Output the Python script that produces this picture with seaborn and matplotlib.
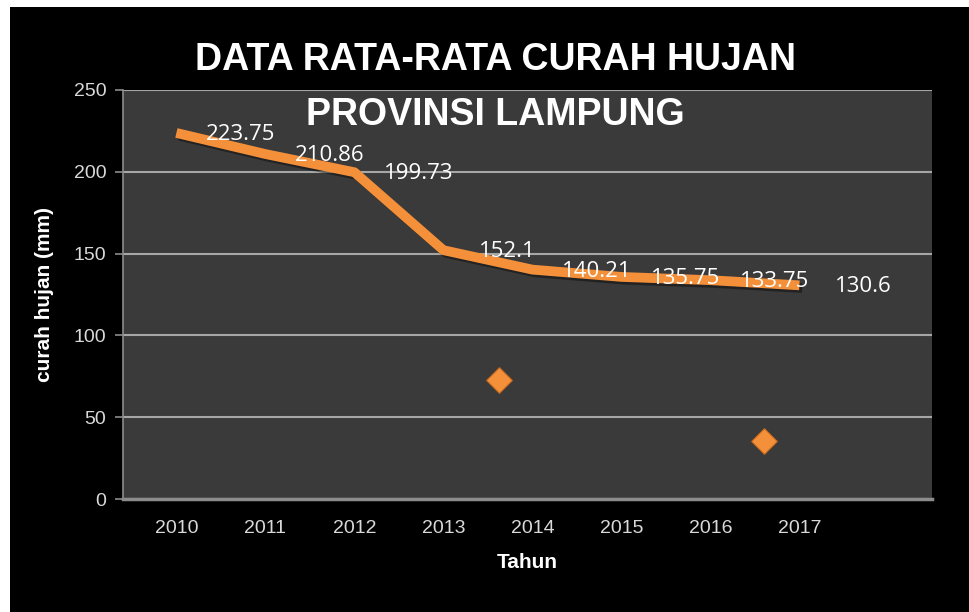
import numpy as np
import pandas as pd
import matplotlib
matplotlib.use('Agg')
import matplotlib.pyplot as plt
import matplotlib.patheffects as pe
from matplotlib.patches import Rectangle
import seaborn as sns

# Data
tahun = [2010, 2011, 2012, 2013, 2014, 2015, 2016, 2017]
curah_hujan = [223.75, 210.86, 199.73, 152.1, 140.21, 135.75, 133.75, 130.6]
label_teks = ['223.75', '210.86', '199.73', '152.1', '140.21', '135.75', '133.75', '130.6']

# stray diamond markers seen in the chart
titik_x = [2013.63, 2016.6]
titik_y = [72.5, 35.5]

df = pd.DataFrame({'Tahun': tahun, 'curah': curah_hujan})
df_titik = pd.DataFrame({'x': titik_x, 'y': titik_y})

sns.set_style('dark')
plt.rcParams['font.family'] = ['Liberation Sans', 'DejaVu Sans']

orange = '#F5903A'
fg = '#D9D9D9'

fig = plt.figure(figsize=(9.69, 6.12), dpi=100, facecolor='white')
# black chart area with thin white margin top/left
fig.patches.append(Rectangle((10 / 969, 0), 1, 1 - 7 / 612, transform=fig.transFigure,
                             facecolor='black', edgecolor='none', zorder=-10))

ax = fig.add_axes([123 / 969, 1 - 499 / 612, (932 - 123) / 969, (499 - 90) / 612])
ax.set_facecolor('#3A3A3A')

shadow = [pe.SimpleLineShadow(offset=(2, -2), shadow_color='black', alpha=0.4), pe.Normal()]
sns.lineplot(data=df, x='Tahun', y='curah', ax=ax, color=orange, linewidth=7,
             solid_joinstyle='round', solid_capstyle='butt', path_effects=shadow, zorder=3)
sns.scatterplot(data=df_titik, x='x', y='y', ax=ax, marker='D', s=170, color=orange,
                edgecolor='#C86A1E', linewidth=0.8, zorder=3)

for xv, yv, t in zip(tahun, curah_hujan, label_teks):
    ax.annotate(t, (xv, yv), xytext=(46, -1), textcoords='offset points', ha='center',
                va='center', color='white', fontsize=16, family=['Open Sans', 'DejaVu Sans'],
                zorder=4)

ax.set_xlim(2009.40, 2018.49)
ax.set_ylim(0, 250)
ax.set_yticks([0, 50, 100, 150, 200, 250])
ax.set_xticks(tahun)
ax.grid(axis='y', color='#A6A6A6', linewidth=1.5)
ax.grid(axis='x', visible=False)
ax.set_axisbelow(True)

for s in ['top', 'right']:
    ax.spines[s].set_visible(False)
ax.spines['left'].set_color('#8C8C8C')
ax.spines['bottom'].set_color('#8C8C8C')
ax.spines['bottom'].set_linewidth(2.5)
ax.spines['left'].set_linewidth(1.2)
ax.tick_params(axis='y', colors=fg, labelsize=14, length=6, width=1.2, direction='out',
               left=True, pad=6)
ax.tick_params(axis='y', which='both', color='#8C8C8C')
ax.tick_params(axis='x', colors=fg, labelsize=14, length=0, pad=15)

ax.set_xlabel('Tahun', color='white', fontsize=15, fontweight='bold', labelpad=12)
ax.set_ylabel('curah hujan (mm)', color='white', fontsize=15, fontweight='bold', labelpad=14)

fig.text(0.511, 1 - 60 / 612, 'DATA RATA-RATA CURAH HUJAN', ha='center', va='center',
         color='white', fontsize=27, fontweight='bold')
fig.text(0.511, 1 - 115 / 612, 'PROVINSI LAMPUNG', ha='center', va='center',
         color='white', fontsize=27, fontweight='bold', zorder=5)

fig.savefig('out.png', dpi=100, facecolor=fig.get_facecolor())
